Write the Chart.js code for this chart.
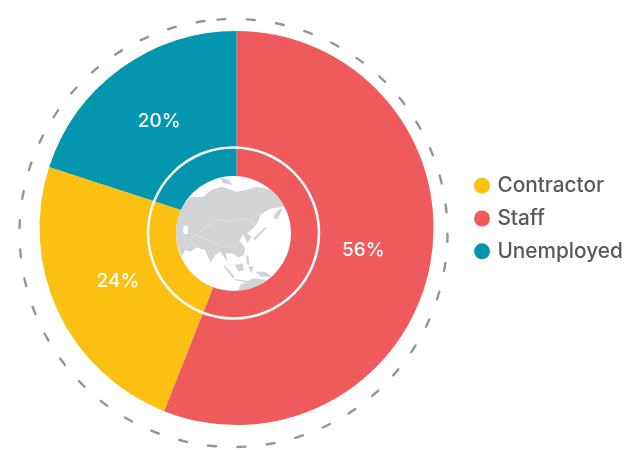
<!DOCTYPE html>
<html><head><meta charset="utf-8">
<script src="https://cdn.jsdelivr.net/npm/chart.js@4"></script>
<style>html,body{margin:0;padding:0;background:#fff}#w{width:627px;height:450px}</style>
</head><body><div id="w"><canvas id="c" width="627" height="450"></canvas></div>
<script>
const categories = ["Staff", "Contractor", "Unemployed"];
const shares = [56, 24, 20];
const sliceColors = ["#EF5A5D", "#FBC012", "#0396AE"];

// Decorative map of Asia inside the centre hole (artwork outline, not data)
const LAND = [
 [[150,172],[190,170],[215,150],[245,140],[290,155],[320,150],[350,140],[395,150],[415,170],[432,200],[395,205],[375,215],[360,225],[355,245],[340,265],[320,280],[335,290],[322,310],[310,283],[298,300],[315,325],[312,345],[295,352],[275,340],[258,340],[262,365],[278,385],[268,375],[255,355],[240,335],[225,345],[212,368],[195,330],[170,322],[150,335],[135,330],[125,350],[110,310],[105,270],[120,210]],
 [[240,112],[265,120],[278,135],[250,130]],
 [[422,205],[427,210],[412,238],[400,235],[406,220]],
 [[340,295],[375,262],[382,262],[360,285],[345,302]],
 [[318,345],[326,350],[328,375],[320,372]],
 [[285,375],[308,370],[312,390],[295,395]],
 [[250,370],[285,412],[278,415],[255,385]],
 [[285,416],[325,424],[325,428],[285,421]],
 [[325,380],[340,378],[335,400]],
 [[345,395],[375,395],[395,410],[365,410]],
 [[295,450],[300,435],[340,415],[378,420],[360,440],[320,458]]
];
const BORDERS = [
 [[200,262],[240,240],[270,245],[310,235],[340,245],[345,262]],
 [[200,262],[165,285],[205,300],[250,320],[290,320]],
 [[165,285],[150,300],[170,322]]
];
const zx = v => 140 + v / 3, zy = v => 140 + v / 3;

const centerArt = {
  id: "centerArt",
  afterLayout(chart) {
    const l = chart.legend;
    l.top = 0; l.bottom = 437;
    l.left = 465; l.right = 627;
    l.height = l.bottom - l.top;
  },
  beforeDatasetsDraw(chart) {
    const c = chart.ctx;
    c.save();
    c.strokeStyle = "#939598";
    c.lineWidth = 2.4;
    c.lineCap = "round";
    c.setLineDash([8, 21.4]);
    c.beginPath();
    c.arc(233.5, 233, 214, -Math.PI / 2 - 0.075, Math.PI * 1.5 - 0.075);
    c.stroke();
    c.restore();
  },
  afterDatasetsDraw(chart) {
    const c = chart.ctx, cx = 233.5, cy = 233.5;
    c.save();
    c.fillStyle = "#fff";
    c.beginPath(); c.arc(cx, cy, 57.5, 0, Math.PI * 2); c.fill();
    c.clip();
    c.fillStyle = "#D1D3D4";
    LAND.forEach(p => {
      c.beginPath();
      p.forEach((q, i) => i ? c.lineTo(zx(q[0]), zy(q[1])) : c.moveTo(zx(q[0]), zy(q[1])));
      c.closePath(); c.fill();
    });
    c.strokeStyle = "rgba(255,255,255,0.6)";
    c.lineWidth = 0.6;
    BORDERS.forEach(p => {
      c.beginPath();
      p.forEach((q, i) => i ? c.lineTo(zx(q[0]), zy(q[1])) : c.moveTo(zx(q[0]), zy(q[1])));
      c.stroke();
    });
    c.fillStyle = "#fff";
    c.beginPath(); c.ellipse(zx(137), zy(270), 2.5, 4.5, 0, 0, Math.PI * 2); c.fill();
    c.restore();
    c.save();
    c.strokeStyle = "#fff";
    c.lineWidth = 2.5;
    c.beginPath(); c.arc(233.5, 233, 85.5, 0, Math.PI * 2); c.stroke();
    const meta = chart.getDatasetMeta(0);
    c.fillStyle = "#fff";
    c.font = '500 19px Inter, "Liberation Sans", sans-serif';
    c.textAlign = "center"; c.textBaseline = "middle";
    meta.data.forEach((a, i) => {
      const m = (a.startAngle + a.endAngle) / 2;
      c.fillText(shares[i] + "%", a.x - 1 + Math.cos(m) * 130, a.y - 2 + Math.sin(m) * 130);
    });
    c.restore();
  }
};

new Chart(document.getElementById("c"), {
  type: "doughnut",
  data: { labels: categories, datasets: [{ data: shares, backgroundColor: sliceColors, borderWidth: 0 }] },
  plugins: [centerArt],
  options: {
    responsive: false,
    animation: false,
    cutout: 50,
    radius: 197,
    layout: { padding: { left: 14, top: 6, right: 0, bottom: 0 } },
    plugins: {
      tooltip: { enabled: false },
      legend: {
        position: "right",
        labels: {
          usePointStyle: true,
          pointStyle: "circle",
          boxHeight: 11.3,
          boxWidth: 10,
          padding: 12,
          color: "#58595B",
          sort: (a, b) => a.text.localeCompare(b.text),
          font: { family: 'Inter, "Liberation Sans", sans-serif', size: 20.8, weight: "500" }
        }
      }
    }
  }
});
</script></body></html>
